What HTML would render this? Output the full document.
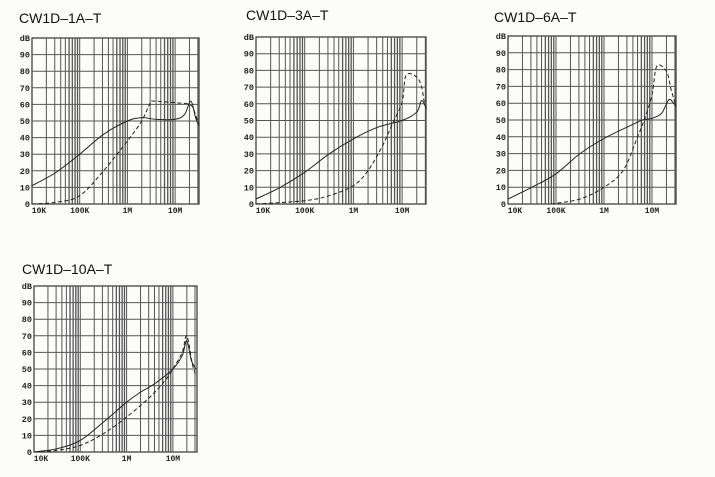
<!DOCTYPE html>
<html><head><meta charset="utf-8"><style>
body{margin:0;background:#fcfcfa;width:715px;height:477px;overflow:hidden}
svg{display:block}
</style></head><body>
<svg id="s" width="715" height="477" xmlns="http://www.w3.org/2000/svg" font-family="Liberation Sans, sans-serif"></svg>
<script>
const charts=[
 {t:"CW1D–1A–T",tx:19,ty:23,x0:32,x1:199,y0:38,y1:204,dec:47.7,
  s:[[0,11],[0.5,19],[1,30],[1.5,42],[2,50],[2.3,52],[2.6,51],[3,51],[3.2,54],[3.33,62],[3.43,52],[3.5,47]],
  d:[[0,0],[0.5,1],[1,5],[1.5,20],[2,38],[2.3,50],[2.48,61],[2.55,62],[3,61],[3.3,60],[3.4,56],[3.5,47]]},
 {t:"CW1D–3A–T",tx:246,ty:20,x0:256,x1:426,y0:37,y1:204,dec:48.7,
  s:[[0,3],[0.5,10],[1,19],[1.5,30],[2,39],[2.5,46],[3,50],[3.3,55],[3.4,62],[3.5,57]],
  d:[[0,0],[1,2],[1.5,5],[2,11],[2.3,20],[2.6,35],[2.8,48],[3,61],[3.08,77],[3.3,76],[3.4,70],[3.45,62],[3.5,57]]},
 {t:"CW1D–6A–T",tx:494,ty:22,x0:508,x1:676,y0:36,y1:204,dec:48,
  s:[[0,3],[0.5,10],[1,18],[1.5,30],[2,39],[2.5,46],[2.8,50],[3,51],[3.2,54],[3.35,62],[3.45,60],[3.5,58]],
  d:[[0.9,0],[1.5,3],[2,10],[2.4,20],[2.7,40],[2.85,51],[3,65],[3.1,82],[3.3,79],[3.4,68],[3.5,58]]},
 {t:"CW1D–10A–T",tx:22,ty:274,x0:34,x1:197,y0:286,y1:452,dec:46.3,
  s:[[0,0],[0.5,2],[1,7],[1.5,18],[2,30],[2.3,36],[2.6,41],[3,50],[3.2,58],[3.3,67],[3.4,55],[3.5,50]],
  d:[[0,0],[0.5,1],[1,4],[1.5,11],[2,21],[2.5,33],[2.8,42],[3,50],[3.2,60],[3.3,70],[3.42,53],[3.5,46]]}
];
let h="";
function smooth(pts,X,Y){let p=pts.map(a=>[X(a[0]),Y(a[1])]);let str="M"+p[0][0].toFixed(1)+","+p[0][1].toFixed(1);
 for(let i=0;i<p.length-1;i++){const p0=p[Math.max(0,i-1)],p1=p[i],p2=p[i+1],p3=p[Math.min(p.length-1,i+2)];
 const c1=[p1[0]+(p2[0]-p0[0])/6,p1[1]+(p2[1]-p0[1])/6],c2=[p2[0]-(p3[0]-p1[0])/6,p2[1]-(p3[1]-p1[1])/6];
 str+=` C${c1[0].toFixed(1)},${c1[1].toFixed(1)} ${c2[0].toFixed(1)},${c2[1].toFixed(1)} ${p2[0].toFixed(1)},${p2[1].toFixed(1)}`;}return str;}
for(const c of charts){
 const X=u=>c.x0+u*c.dec, Y=v=>c.y1-(c.y1-c.y0)*v/100;
 h+=`<text x="${c.tx}" y="${c.ty}" font-size="14" fill="#111">${c.t}</text>`;
 h+=`<rect x="${c.x0}" y="${c.y0}" width="${c.x1-c.x0}" height="${c.y1-c.y0}" fill="none" stroke="#333" stroke-width="1.2"/>`;
 for(let i=1;i<10;i++){const y=Y(i*10);h+=`<line x1="${c.x0}" x2="${c.x1}" y1="${y}" y2="${y}" stroke="#555" stroke-width="1"/>`;}
 for(let d=0;d<4;d++)for(let k=1;k<10;k++){const x=X(d+Math.log10(k));if(x<=c.x0+0.5||x>=c.x1-0.5)continue;
  h+=`<line x1="${x}" x2="${x}" y1="${c.y0}" y2="${c.y1}" stroke="#555" stroke-width="${k>=6?1.3:1}"/>`;}
 const lbl=["0","10","20","30","40","50","60","70","80","90","dB"];
 for(let i=0;i<=10;i++)h+=`<text x="${c.x0-2}" y="${Y(i*10)+3}" font-size="8.5" text-anchor="end" fill="#222" font-family="Liberation Mono, monospace" font-weight="bold">${lbl[i]}</text>`;
 ["10K","100K","1M","10M"].forEach((l,i)=>{h+=`<text x="${X(i)+(i==0?7:0)}" y="${c.y1+9}" font-size="8" text-anchor="middle" fill="#222" font-family="Liberation Mono, monospace" font-weight="bold">${l}</text>`;});
 h+=`<path d="${smooth(c.s,X,Y)}" fill="none" stroke="#222" stroke-width="1"/>`;
 h+=`<path d="${smooth(c.d,X,Y)}" fill="none" stroke="#222" stroke-width="1" stroke-dasharray="4,2.5"/>`;
}
document.getElementById("s").innerHTML=h;
</script>
</body></html>
